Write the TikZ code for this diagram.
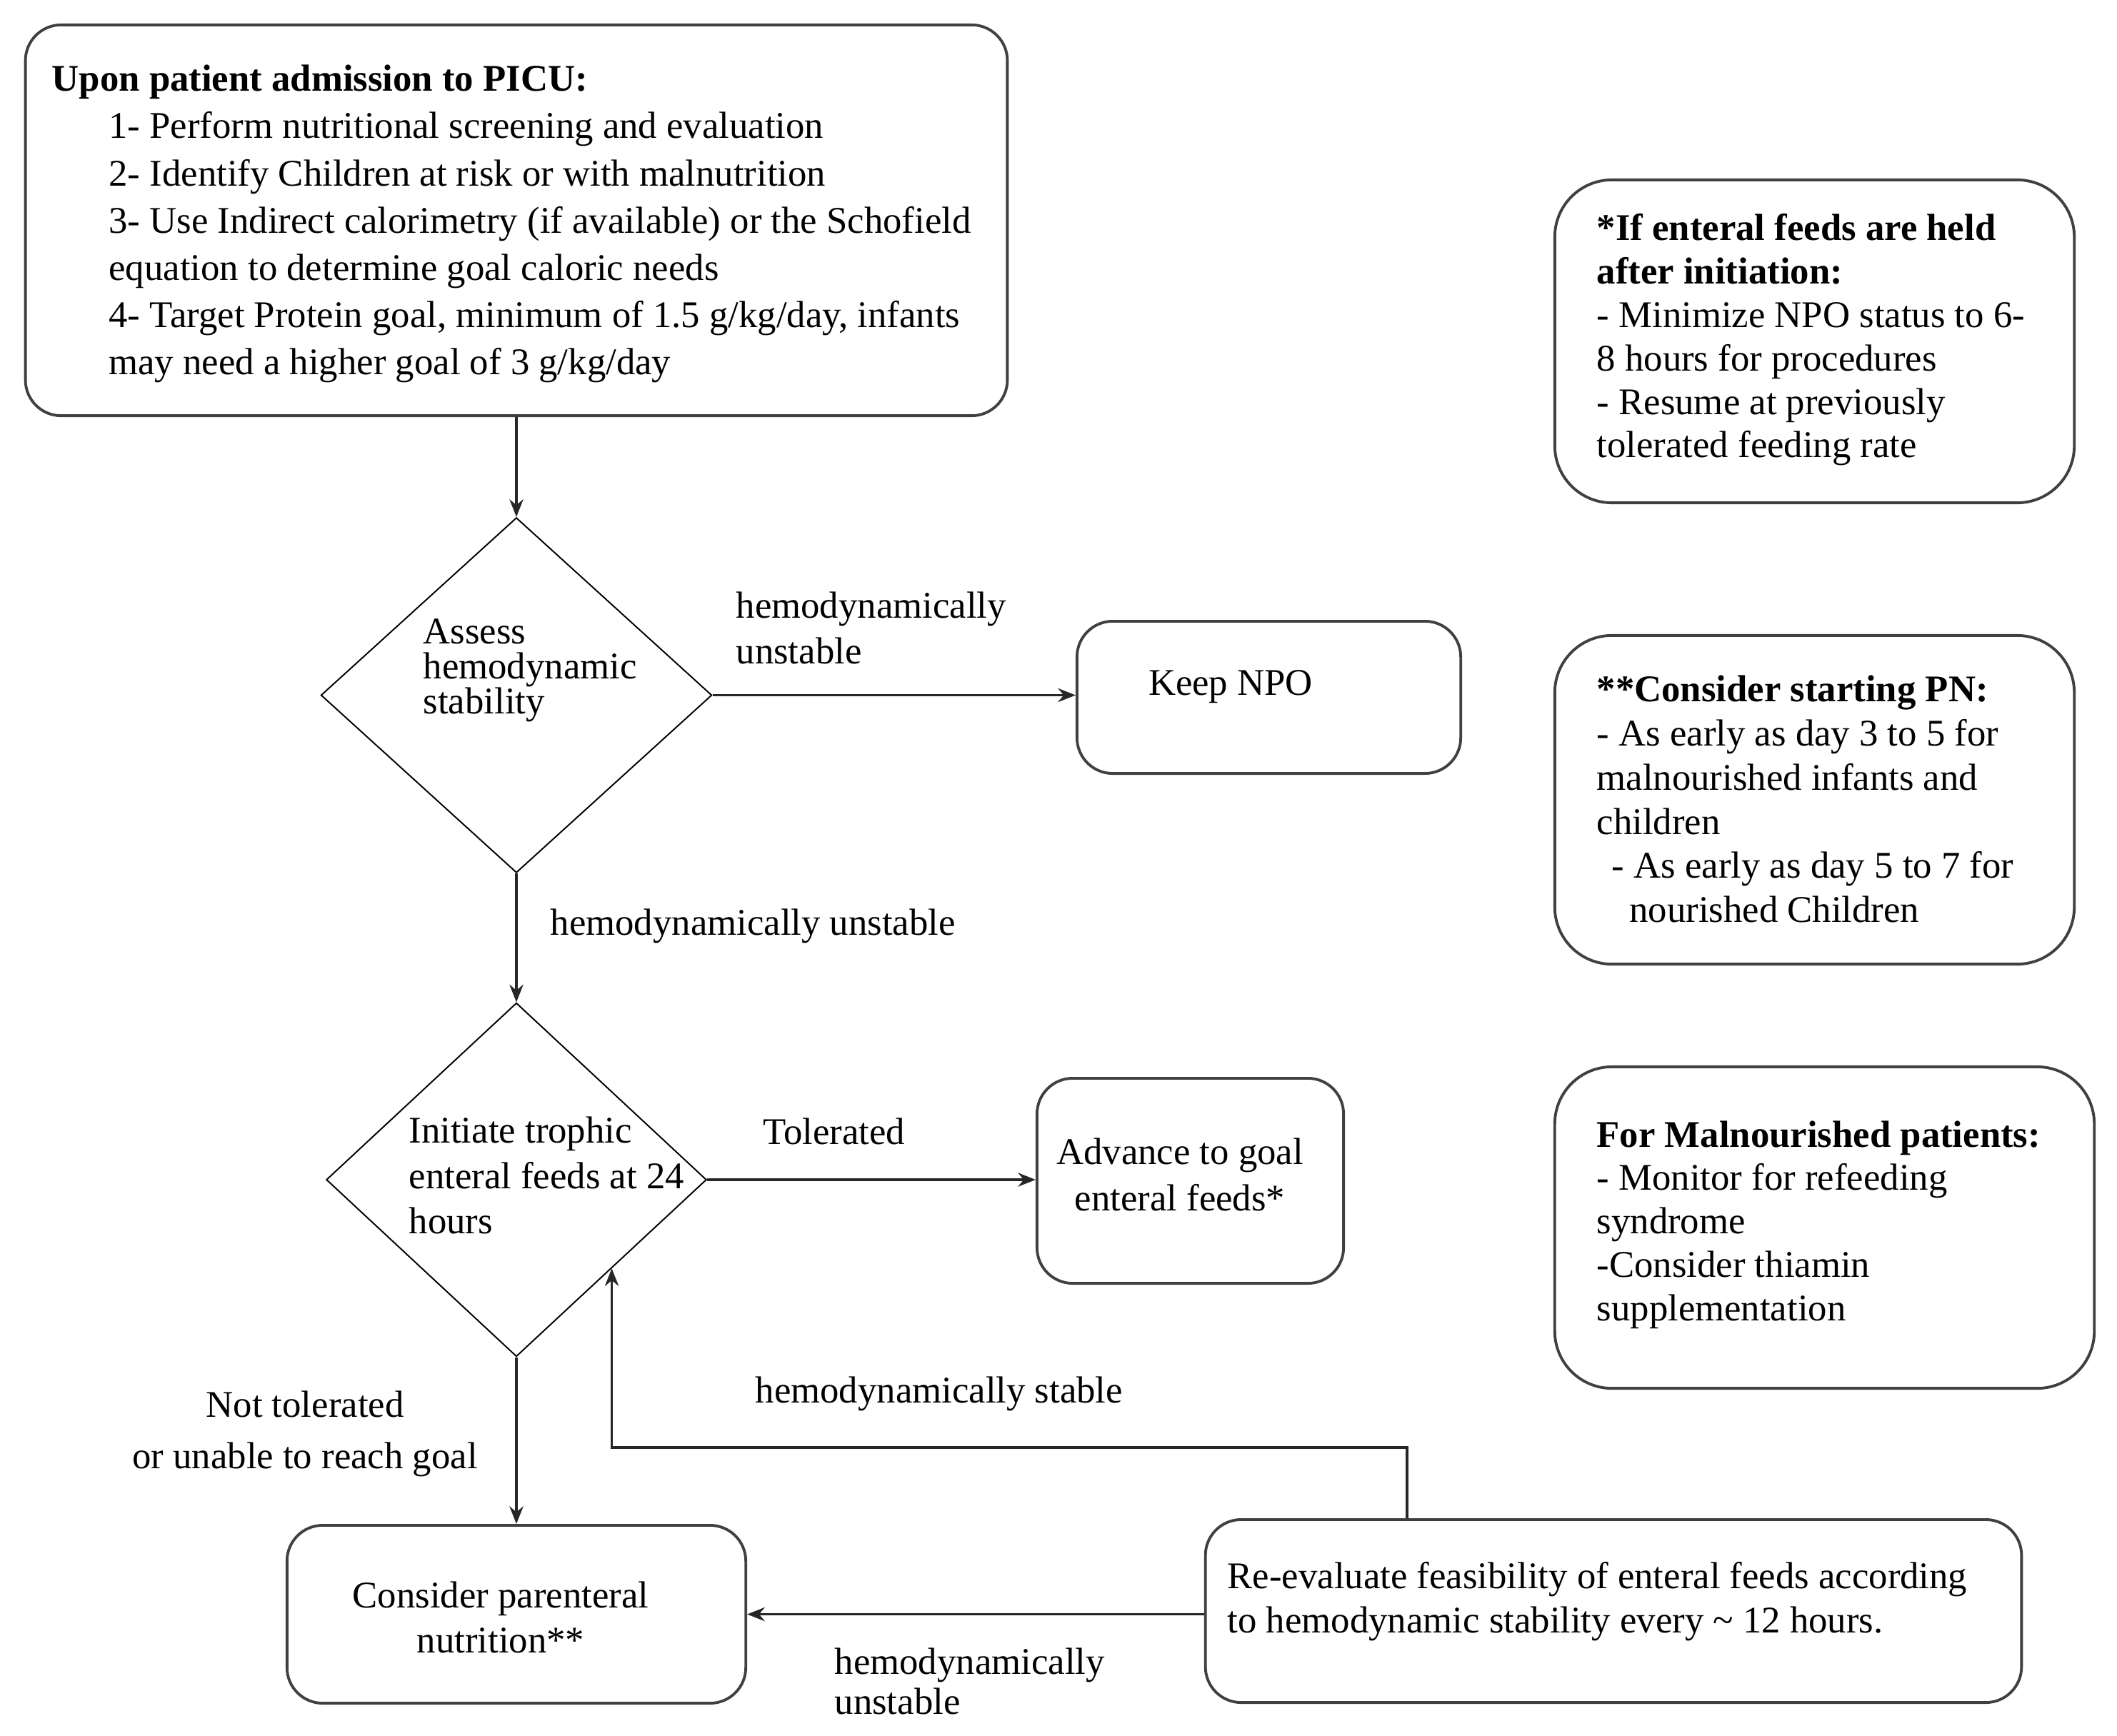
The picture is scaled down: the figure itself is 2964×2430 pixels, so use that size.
\documentclass[tikz,border=0pt]{standalone}
\usepackage{fontspec}
\setmainfont{Liberation Serif}
\usetikzlibrary{arrows.meta,shapes.geometric}
\begin{document}
\begin{tikzpicture}[x=0.01cm,y=-0.01cm,
 box/.style={draw=black!75, line width=1.1pt, rounded corners=0.5cm, inner sep=0pt},
 note/.style={draw=black!75, line width=1.1pt, rounded corners=0.8cm, inner sep=0pt},
 diam/.style={draw=black, line width=0.55pt, diamond, inner sep=0pt},
 arr/.style={draw=black!85, line width=0.9pt, -{Stealth[length=7pt,width=5.5pt]}},
 txt/.style={inner sep=0pt, align=left, font=\fontsize{15pt}{18.8pt}\selectfont},
 ctxt/.style={txt, align=center},
]
\fill[white] (0,0) rectangle (2964,2430);
\useasboundingbox (0,0) rectangle (2964,2430);

% main boxes
\node[box, minimum width=13.74cm, minimum height=5.47cm] (top) at (723,308.5) {};
\node[txt, anchor=west] (toptxt) at (72,313.5) {\textbf{Upon patient admission to PICU:}\\
\hspace*{22.7pt}1- Perform nutritional screening and evaluation\\
\hspace*{22.7pt}2- Identify Children at risk or with malnutrition\\
\hspace*{22.7pt}3- Use Indirect calorimetry (if available) or the Schofield\\
\hspace*{22.7pt}equation to determine goal caloric needs\\
\hspace*{22.7pt}4- Target Protein goal, minimum of 1.5 g/kg/day, infants\\
\hspace*{22.7pt}may need a higher goal of 3 g/kg/day};

\node[diam, minimum width=5.47cm, minimum height=4.97cm] (d1) at (723,973.5) {};
\node[txt, anchor=west, font=\fontsize{15pt}{13.9pt}\selectfont] (d1txt) at (592,939) {Assess\\hemodynamic\\stability};

\node[box, minimum width=5.37cm, minimum height=2.13cm] (npo) at (1776.5,976.5) {};
\node[txt] (npotxt) at (1723,962) {Keep NPO};

\node[diam, minimum width=5.32cm, minimum height=4.95cm] (d2) at (723,1652) {};
\node[txt, anchor=west, font=\fontsize{15pt}{18.1pt}\selectfont] (d2txt) at (572,1646) {Initiate trophic\\enteral feeds at 24\\hours};

\node[box, minimum width=4.29cm, minimum height=2.87cm] (adv) at (1666.5,1653.5) {};
\node[ctxt, font=\fontsize{15pt}{18.4pt}\selectfont] (advtxt) at (1652,1645) {Advance to goal\\enteral feeds*};

\node[box, minimum width=6.42cm, minimum height=2.49cm] (pn) at (723,2260.5) {};
\node[ctxt, font=\fontsize{15pt}{18.1pt}\selectfont] (pntxt) at (701,2265) {Consider parenteral\\nutrition**};

\node[box, minimum width=11.42cm, minimum height=2.56cm] (re) at (2259,2256) {};
\node[txt, anchor=west, font=\fontsize{15pt}{17.6pt}\selectfont] (retxt) at (1718,2243) {Re-evaluate feasibility of enteral feeds according\\to hemodynamic stability every \textasciitilde{} 12 hours.};

% side notes
\node[note, minimum width=7.27cm, minimum height=4.52cm] (na) at (2540.5,478) {};
\node[txt, anchor=west, font=\fontsize{15pt}{17.3pt}\selectfont] (natxt) at (2235,476) {\textbf{*If enteral feeds are held}\\\textbf{after initiation:}\\- Minimize NPO status to 6-\\8 hours for procedures\\- Resume at previously\\tolerated feeding rate};

\node[note, minimum width=7.27cm, minimum height=4.60cm] (nb) at (2540.5,1120) {};
\node[txt, anchor=west, font=\fontsize{15pt}{17.6pt}\selectfont] (nbtxt) at (2235,1119) {\textbf{**Consider starting PN:}\\- As early as day 3 to 5 for\\malnourished infants and\\children\\\hspace*{6pt}- As early as day 5 to 7 for\\\hspace*{13pt}nourished Children};

\node[note, minimum width=7.55cm, minimum height=4.50cm] (nc) at (2554.5,1719) {};
\node[txt, anchor=west, font=\fontsize{15pt}{17.3pt}\selectfont] (nctxt) at (2235,1715) {\textbf{For Malnourished patients:}\\- Monitor for refeeding\\syndrome\\-Consider thiamin\\supplementation};

% connectors
\draw[arr] (top.south) -- (d1.north);
\draw[arr] (d1.east) -- (d1.east -| npo.west);
\draw[arr] (d1.south) -- (d2.north);
\draw[arr] (d2.east) -- (d2.east -| adv.west);
\draw[arr] (d2.south) -- (pn.north);
\draw[arr] (re.west |- pn.east) -- (pn.east);
\coordinate (fbx) at (1970,0);
\draw[arr] (re.north -| fbx) |- (d2.south east |- 0,2027) -- (d2.south east);

% labels
\node[txt, anchor=west, font=\fontsize{15pt}{18.4pt}\selectfont] (l1) at (1030,879.5) {hemodynamically\\unstable};
\node[txt, anchor=west] (l2) at (770,1297) {hemodynamically unstable};
\node[txt] (l3) at (1168,1584) {Tolerated};
\node[ctxt, font=\fontsize{15pt}{20.4pt}\selectfont] (l4) at (427,2008) {Not tolerated\\or unable to reach goal};
\node[txt, anchor=west] (l5) at (1057,1952) {hemodynamically stable};
\node[txt, anchor=west, font=\fontsize{15pt}{15.9pt}\selectfont] (l6) at (1168,2354) {hemodynamically\\unstable};
\end{tikzpicture}
\end{document}
